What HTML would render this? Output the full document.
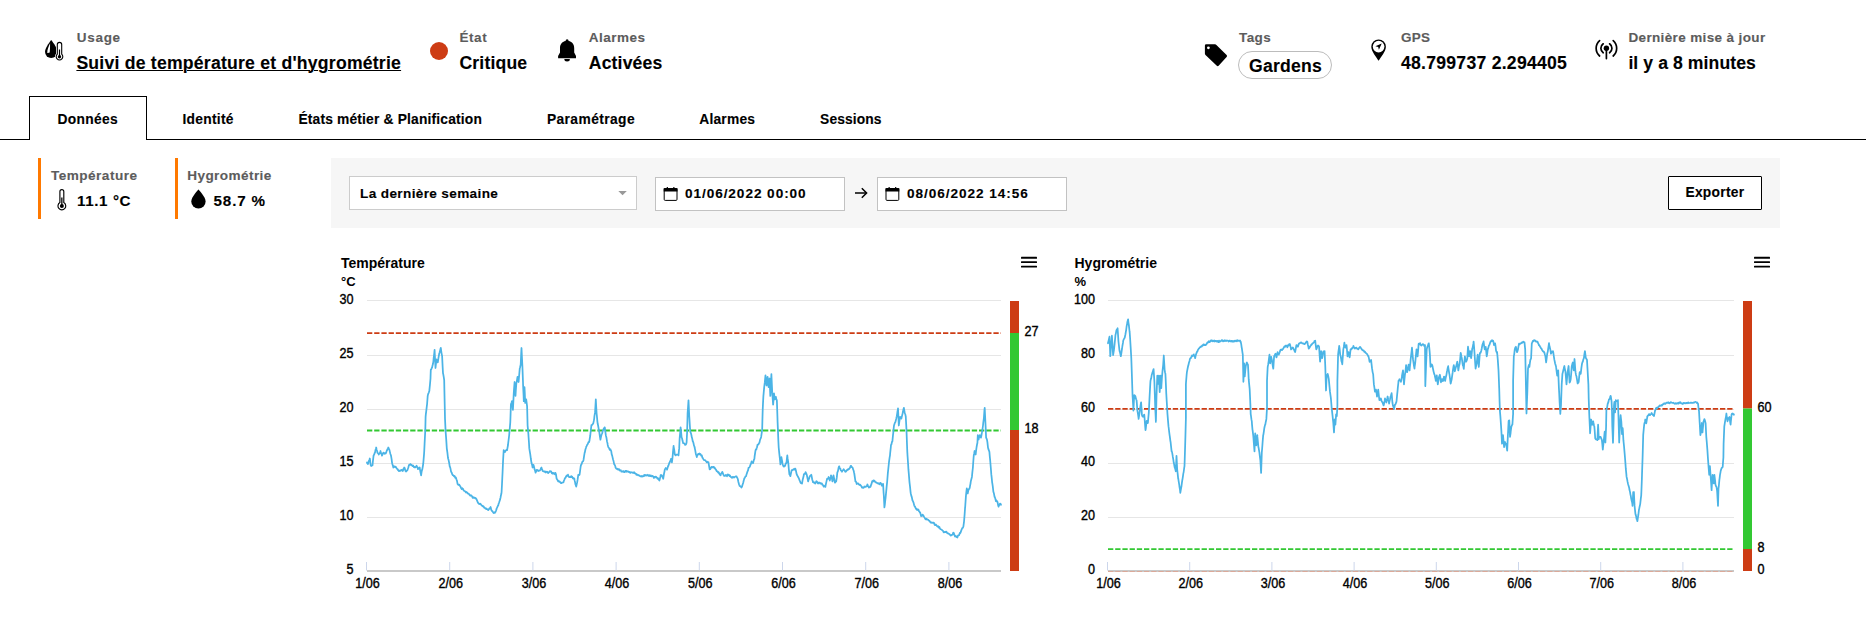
<!DOCTYPE html>
<html lang="fr"><head><meta charset="utf-8"><title>Suivi de température et d'hygrométrie</title>
<style>
html,body{margin:0;padding:0;background:#fff;}
body{width:1866px;height:617px;position:relative;overflow:hidden;font-family:"Liberation Sans",Arial,sans-serif;}
.tx{position:absolute;white-space:nowrap;font-weight:bold;-webkit-text-stroke:0.12px currentColor;}
.abs{position:absolute;box-sizing:border-box;}
svg{position:absolute;left:0;top:0;overflow:visible;}
svg text{font-family:"Liberation Sans",Arial,sans-serif;}
.ax{font-size:14px;fill:#000;stroke:#000;stroke-width:0.38px;}
.ti{font-size:14px;font-weight:bold;fill:#000;}
.un{font-size:13px;font-weight:bold;fill:#000;}
</style></head><body>
<!-- tab line + active tab -->
<div class="abs" style="left:0;top:139px;width:1866px;height:1px;background:#000"></div>
<div class="abs" style="left:29px;top:96px;width:118px;height:44px;border:1px solid #000;border-bottom:none;background:#fff"></div>
<!-- status dot -->
<div class="abs" style="left:430px;top:42px;width:18px;height:18px;border-radius:50%;background:#cd3c14"></div>
<!-- tag pill -->
<div class="abs" style="left:1238px;top:51px;width:94px;height:28px;border:1px solid #bcbcbc;border-radius:14px;background:#fff"></div>
<!-- side bars -->
<div class="abs" style="left:38px;top:158px;width:3px;height:61px;background:#ff7900"></div>
<div class="abs" style="left:175px;top:158px;width:3px;height:61px;background:#ff7900"></div>
<!-- filter panel -->
<div class="abs" style="left:331px;top:158px;width:1449px;height:69.5px;background:#f6f6f6"></div>
<div class="abs" style="left:349px;top:176px;width:288px;height:34px;border:1px solid #ccc;background:#fff"></div>
<div class="abs" style="left:655px;top:177px;width:190px;height:34px;border:1px solid #c2c2c2;background:#fff"></div>
<div class="abs" style="left:877px;top:177px;width:190px;height:34px;border:1px solid #c2c2c2;background:#fff"></div>
<div class="abs" style="left:1668px;top:176px;width:94px;height:34px;border:1px solid #000;border-radius:1px;background:#fff"></div>
<div class="tx" id="l1" style="left:76.7px;top:30px;line-height:15px;font-size:13.5px;color:#5c5c5c;letter-spacing:0.725px;">Usage</div>
<div class="tx" id="l2" style="left:459.4px;top:30px;line-height:15px;font-size:13.5px;color:#5c5c5c;letter-spacing:0.600px;">État</div>
<div class="tx" id="l3" style="left:588.8px;top:30px;line-height:15px;font-size:13.5px;color:#5c5c5c;letter-spacing:0.500px;">Alarmes</div>
<div class="tx" id="l4" style="left:1239px;top:30px;line-height:15px;font-size:13.5px;color:#5c5c5c;letter-spacing:0.433px;">Tags</div>
<div class="tx" id="l5" style="left:1401.1px;top:30px;line-height:15px;font-size:13.5px;color:#5c5c5c;letter-spacing:0.250px;">GPS</div>
<div class="tx" id="l6" style="left:1628.4px;top:30px;line-height:15px;font-size:13.5px;color:#5c5c5c;letter-spacing:0.368px;">Dernière mise à jour</div>
<div class="tx" id="v1" style="left:76.4px;top:53px;line-height:20px;font-size:17.6px;color:#000;letter-spacing:0.233px;text-decoration:underline;text-decoration-thickness:1px;text-underline-offset:1px;">Suivi de température et d'hygrométrie</div>
<div class="tx" id="v2" style="left:459.4px;top:53px;line-height:20px;font-size:17.6px;color:#000;letter-spacing:0.186px;">Critique</div>
<div class="tx" id="v3" style="left:588.8px;top:53px;line-height:20px;font-size:17.6px;color:#000;letter-spacing:0.157px;">Activées</div>
<div class="tx" id="v4" style="left:1249.1px;top:56px;line-height:20px;font-size:17.6px;color:#000;letter-spacing:0.233px;">Gardens</div>
<div class="tx" id="v5" style="left:1401px;top:53px;line-height:20px;font-size:17.6px;color:#000;letter-spacing:0.259px;">48.799737 2.294405</div>
<div class="tx" id="v6" style="left:1628.4px;top:53px;line-height:20px;font-size:17.6px;color:#000;letter-spacing:0.087px;">il y a 8 minutes</div>
<div class="tx" id="t1" style="left:57.4px;top:112px;line-height:15px;font-size:13.8px;color:#000;letter-spacing:0.317px;">Données</div>
<div class="tx" id="t2" style="left:182.4px;top:112px;line-height:15px;font-size:13.8px;color:#000;letter-spacing:0.286px;">Identité</div>
<div class="tx" id="t3" style="left:298.4px;top:112px;line-height:15px;font-size:13.8px;color:#000;letter-spacing:0.178px;">États métier &amp; Planification</div>
<div class="tx" id="t4" style="left:546.9px;top:112px;line-height:15px;font-size:13.8px;color:#000;letter-spacing:0.410px;">Paramétrage</div>
<div class="tx" id="t5" style="left:699.2px;top:112px;line-height:15px;font-size:13.8px;color:#000;letter-spacing:0.233px;">Alarmes</div>
<div class="tx" id="t6" style="left:820.1px;top:112px;line-height:15px;font-size:13.8px;color:#000;letter-spacing:0.100px;">Sessions</div>
<div class="tx" id="s1" style="left:50.9px;top:168px;line-height:15px;font-size:13.6px;color:#5c5c5c;letter-spacing:0.480px;">Température</div>
<div class="tx" id="s2" style="left:77.0px;top:192px;line-height:17px;font-size:15.2px;color:#000;letter-spacing:0.600px;">11.1 °C</div>
<div class="tx" id="s3" style="left:187.2px;top:168px;line-height:15px;font-size:13.6px;color:#5c5c5c;letter-spacing:0.410px;">Hygrométrie</div>
<div class="tx" id="s4" style="left:213.6px;top:192px;line-height:17px;font-size:15.2px;color:#000;letter-spacing:0.820px;">58.7 %</div>
<div class="tx" id="f1" style="left:360.1px;top:186px;line-height:15px;font-size:13.6px;color:#000;letter-spacing:0.350px;">La dernière semaine</div>
<div class="tx" id="f2" style="left:684.9px;top:186px;line-height:15px;font-size:13.6px;color:#000;letter-spacing:0.947px;">01/06/2022 00:00</div>
<div class="tx" id="f3" style="left:907px;top:186px;line-height:15px;font-size:13.6px;color:#000;letter-spacing:0.947px;">08/06/2022 14:56</div>
<div class="tx" id="f4" style="left:1685.4px;top:185px;line-height:15px;font-size:13.8px;color:#000;letter-spacing:0.286px;">Exporter</div>
<svg width="1866" height="617" viewBox="0 0 1866 617">
<!-- usage icon: drop + thermometer -->
<g id="ic-usage">
<path d="M51.2 40 C51.2 40 45 47.6 45 51.8 A6.2 6.2 0 0 0 57.4 51.8 C57.4 47.6 51.2 40 51.2 40Z" fill="#000"/>
<path d="M50.1 43.2 C48.6 46.6 47.1 49.8 47.3 52.9 C48 53.1 49 52.9 49.7 52.5 C49.9 49.5 50.2 46.4 50.1 43.2Z" fill="#fff"/>
<path d="M57.3 44.6 a2.2 2.2 0 0 1 4.4 0 V54.2 a3.3 3.3 0 1 1 -4.4 0Z" fill="#fff" stroke="#fff" stroke-width="2.6"/>
<path d="M57.3 44.6 a2.2 2.2 0 0 1 4.4 0 V54.2 a3.3 3.3 0 1 1 -4.4 0Z" fill="#fff" stroke="#000" stroke-width="1.1"/>
<circle cx="59.5" cy="56.8" r="1.7" fill="#000"/>
<rect x="58.9" y="49.5" width="1.2" height="7" fill="#000"/>
</g>
<!-- bell -->
<g id="ic-bell" transform="translate(558.1,39.3)">
<path d="M9 0 a1.5 1.5 0 0 1 1.5 1.5 v0.3 C14.2 2.5 16.1 5.3 16.1 9 V13.2 L17.9 16.8 V18.9 H0 V16.8 L1.9 13.2 V9 C1.9 5.3 3.8 2.5 7.5 1.8 V1.5 A1.5 1.5 0 0 1 9 0Z" fill="#000"/>
<path d="M6.2 19.8 H11.8 A2.8 2.5 0 0 1 6.2 19.8Z" fill="#000"/>
</g>
<!-- tag -->
<g id="ic-tag">
<path d="M1206.2 44.3 H1215 Q1215.8 44.3 1216.4 44.9 L1226.6 55.1 Q1227.5 56 1226.6 56.9 L1218.6 65.7 Q1217.7 66.6 1216.8 65.7 L1205.5 55 Q1204.9 54.4 1204.9 53.6 V45.6 Q1204.9 44.3 1206.2 44.3Z" fill="#000"/>
<circle cx="1208.4" cy="47.8" r="1.4" fill="#fff"/>
</g>
<!-- gps pin -->
<g id="ic-pin">
<path d="M1378.6 60.8 C1376.5 57.2 1371.3 51.5 1371.3 46.7 A7.3 7.3 0 0 1 1385.9 46.7 C1385.9 51.5 1380.7 57.2 1378.6 60.8Z" fill="#000"/>
<circle cx="1378.6" cy="46.6" r="5.8" fill="#fff"/>
<path d="M1381.7 43.5 L1375.4 46.3 L1378.2 47 L1378.9 49.8Z" fill="#000"/>
</g>
<!-- signal -->
<g id="ic-signal" fill="none" stroke="#000" stroke-width="1.7" stroke-linecap="round">
<circle cx="1606.4" cy="48.3" r="2.7" fill="#000" stroke="none"/>
<line x1="1606.4" y1="48.3" x2="1606.4" y2="58.6"/>
<path d="M1603.2 43.8 A5.5 5.5 0 0 0 1603.2 52.8"/>
<path d="M1609.6 43.8 A5.5 5.5 0 0 1 1609.6 52.8"/>
<path d="M1599.6 40.6 A10.3 10.3 0 0 0 1599.6 56"/>
<path d="M1613.2 40.6 A10.3 10.3 0 0 1 1613.2 56"/>
</g>
<!-- thermometer (side) -->
<g id="ic-thermo">
<path d="M59.9 191.6 a1.95 1.95 0 0 1 3.9 0 V202.6 a3.9 3.9 0 1 1 -3.9 0Z" fill="#fff" stroke="#000" stroke-width="1.15"/>
<circle cx="61.85" cy="206" r="2" fill="#000"/>
<rect x="61.2" y="197.5" width="1.3" height="8" fill="#000"/>
</g>
<!-- drop (side) -->
<path id="ic-drop" d="M198.45 189.6 C198.45 189.6 191.3 197 191.3 201.4 A7.15 7.15 0 0 0 205.6 201.4 C205.6 197 198.45 189.6 198.45 189.6Z" fill="#000"/>
<!-- caret -->
<path d="M618.3 191 H626.8 L622.55 195.3Z" fill="#999"/>
<!-- calendars -->
<g id="ic-cal1">
<rect x="664.2" y="188.6" width="12.8" height="11.8" rx="1" fill="#fff" stroke="#000" stroke-width="1"/>
<rect x="663.7" y="188.1" width="13.8" height="3.4" fill="#000"/>
<rect x="666.7" y="187.1" width="1.3" height="2.6" fill="#000"/><rect x="673.2" y="187.1" width="1.3" height="2.6" fill="#000"/>
</g>
<g id="ic-cal2" transform="translate(221.8,0)">
<rect x="664.2" y="188.6" width="12.8" height="11.8" rx="1" fill="#fff" stroke="#000" stroke-width="1"/>
<rect x="663.7" y="188.1" width="13.8" height="3.4" fill="#000"/>
<rect x="666.7" y="187.1" width="1.3" height="2.6" fill="#000"/><rect x="673.2" y="187.1" width="1.3" height="2.6" fill="#000"/>
</g>
<!-- arrow -->
<g fill="none" stroke="#000" stroke-width="1.5">
<path d="M855 193 H866"/><path d="M861.8 188.2 L866.6 193 L861.8 197.8"/>
</g>

<rect x="367" y="300.0" width="634" height="1" fill="#e6e6e6"/>
<rect x="367" y="355.0" width="634" height="1" fill="#e6e6e6"/>
<rect x="367" y="409.0" width="634" height="1" fill="#e6e6e6"/>
<rect x="367" y="463.0" width="634" height="1" fill="#e6e6e6"/>
<rect x="367" y="517.0" width="634" height="1" fill="#e6e6e6"/>
<rect x="367" y="570" width="634" height="2" fill="#c9c9c9"/>
<rect x="366.0" y="562" width="1" height="8.5" fill="#ccd6eb"/>
<text transform="translate(367.5,588) scale(0.9,1)" text-anchor="middle" class="ax">1/06</text>
<rect x="449.2" y="562" width="1" height="8.5" fill="#ccd6eb"/>
<text transform="translate(450.7,588) scale(0.9,1)" text-anchor="middle" class="ax">2/06</text>
<rect x="532.4" y="562" width="1" height="8.5" fill="#ccd6eb"/>
<text transform="translate(533.9,588) scale(0.9,1)" text-anchor="middle" class="ax">3/06</text>
<rect x="615.6" y="562" width="1" height="8.5" fill="#ccd6eb"/>
<text transform="translate(617.1,588) scale(0.9,1)" text-anchor="middle" class="ax">4/06</text>
<rect x="698.8" y="562" width="1" height="8.5" fill="#ccd6eb"/>
<text transform="translate(700.3,588) scale(0.9,1)" text-anchor="middle" class="ax">5/06</text>
<rect x="782.0" y="562" width="1" height="8.5" fill="#ccd6eb"/>
<text transform="translate(783.5,588) scale(0.9,1)" text-anchor="middle" class="ax">6/06</text>
<rect x="865.2" y="562" width="1" height="8.5" fill="#ccd6eb"/>
<text transform="translate(866.7,588) scale(0.9,1)" text-anchor="middle" class="ax">7/06</text>
<rect x="948.4" y="562" width="1" height="8.5" fill="#ccd6eb"/>
<text transform="translate(949.9,588) scale(0.9,1)" text-anchor="middle" class="ax">8/06</text>
<text transform="translate(353.5,304) scale(0.9,1)" text-anchor="end" class="ax">30</text>
<text transform="translate(353.5,358) scale(0.9,1)" text-anchor="end" class="ax">25</text>
<text transform="translate(353.5,412) scale(0.9,1)" text-anchor="end" class="ax">20</text>
<text transform="translate(353.5,466) scale(0.9,1)" text-anchor="end" class="ax">15</text>
<text transform="translate(353.5,520) scale(0.9,1)" text-anchor="end" class="ax">10</text>
<text transform="translate(353.5,574) scale(0.9,1)" text-anchor="end" class="ax">5</text>
<line x1="367" x2="1001" y1="333.2" y2="333.2" stroke="#cd3c14" stroke-width="1.8" stroke-dasharray="5.3,1.9"/>
<line x1="367" x2="1001" y1="430.5" y2="430.5" stroke="#32c832" stroke-width="1.8" stroke-dasharray="5.3,1.9"/>
<path d="M367.0 462.9 L367.0 462.3 L367.6 463.7 L368.0 464.0 L368.2 463.1 L368.7 461.4 L368.8 461.2 L369.4 459.7 L369.8 458.5 L370.0 459.7 L370.5 464.0 L370.6 464.9 L371.2 466.0 L371.5 465.8 L371.8 465.3 L372.4 465.4 L372.5 465.4 L373.0 460.3 L373.6 455.3 L373.6 455.5 L374.2 454.6 L374.8 452.6 L375.0 452.7 L375.4 450.3 L376.0 448.4 L376.2 447.5 L376.6 449.7 L377.2 451.2 L377.4 452.7 L377.8 453.0 L378.4 453.7 L378.8 454.5 L379.0 453.9 L379.6 453.5 L380.2 452.1 L380.5 451.0 L380.8 452.4 L381.4 453.8 L381.9 455.3 L382.0 455.7 L382.6 454.2 L383.2 452.8 L383.6 452.7 L383.8 452.9 L384.4 453.7 L385.0 453.1 L385.4 453.3 L385.6 453.6 L386.2 452.5 L386.8 450.5 L387.1 450.1 L387.4 449.2 L388.0 448.4 L388.3 447.5 L388.6 448.1 L389.2 449.5 L389.5 450.1 L389.8 451.6 L390.4 454.0 L390.9 455.3 L391.0 455.6 L391.6 459.2 L392.0 462.3 L392.2 463.5 L392.8 465.4 L393.2 467.1 L393.4 467.5 L394.0 466.2 L394.6 466.8 L394.7 466.6 L395.2 467.2 L395.8 466.7 L396.1 467.5 L396.4 467.8 L397.0 468.9 L397.6 469.1 L397.9 470.1 L398.2 470.0 L398.8 471.0 L399.3 471.0 L399.4 470.7 L400.0 470.9 L400.6 470.7 L401.0 470.1 L401.2 470.0 L401.8 469.8 L402.4 470.6 L402.7 471.0 L403.0 470.5 L403.6 468.5 L404.2 468.0 L404.3 467.5 L404.8 468.5 L405.4 470.9 L405.7 471.0 L406.0 471.5 L406.6 471.0 L407.2 470.2 L407.4 470.1 L407.8 469.0 L408.4 467.2 L409.0 464.9 L409.1 464.9 L409.6 464.7 L410.2 464.8 L410.4 464.0 L410.8 464.6 L411.4 465.0 L411.7 464.9 L412.0 465.3 L412.6 466.2 L413.1 465.8 L413.2 465.5 L413.8 467.0 L414.4 466.8 L414.9 467.5 L415.0 467.5 L415.6 467.1 L416.2 466.3 L416.6 465.8 L416.8 466.8 L417.4 467.1 L418.0 469.2 L418.0 469.1 L418.6 468.1 L419.2 467.8 L419.7 467.5 L419.8 468.3 L420.4 471.8 L421.0 474.6 L421.1 475.3 L421.6 471.8 L422.2 469.2 L422.2 469.9 L422.8 466.5 L423.2 464.0 L423.4 461.9 L424.0 454.6 L424.2 451.9 L424.6 443.5 L425.2 432.0 L425.3 430.8 L425.6 416.8 L425.8 414.7 L426.4 409.8 L427.0 404.6 L427.0 405.3 L427.6 397.3 L427.7 395.9 L428.2 393.8 L428.8 392.6 L429.4 390.7 L429.4 390.1 L430.0 384.2 L430.5 378.5 L430.6 375.0 L430.8 369.8 L431.2 369.5 L431.8 367.9 L432.2 367.2 L432.4 365.9 L433.0 363.8 L433.4 361.1 L433.6 358.6 L434.2 353.8 L434.6 349.8 L434.8 354.5 L435.4 365.8 L435.5 368.0 L436.0 363.3 L436.4 359.3 L436.6 359.7 L437.2 360.1 L437.8 361.9 L437.8 362.4 L438.4 358.3 L439.0 354.8 L439.1 354.1 L439.6 352.4 L440.2 350.1 L440.7 348.0 L440.8 347.9 L441.4 352.3 L442.0 355.6 L442.1 355.8 L442.6 366.1 L443.0 373.3 L443.2 373.9 L443.8 377.3 L444.2 380.2 L444.4 390.3 L444.7 404.6 L445.0 418.6 L445.0 418.6 L445.6 431.0 L445.7 432.5 L446.2 439.1 L446.8 448.4 L446.8 448.5 L447.4 452.6 L448.0 458.0 L448.2 458.8 L448.6 460.1 L449.2 463.0 L449.8 466.9 L449.9 466.6 L450.4 468.2 L451.0 471.3 L451.6 472.7 L451.6 472.3 L452.2 474.3 L452.8 475.1 L453.4 475.3 L453.4 475.3 L454.0 476.4 L454.6 476.0 L455.2 477.8 L455.8 477.5 L456.0 477.9 L456.4 479.3 L457.0 480.9 L457.6 484.1 L457.7 484.0 L458.2 484.8 L458.8 484.6 L459.4 484.9 L459.4 485.3 L460.0 485.9 L460.6 486.9 L461.2 488.3 L461.2 488.3 L461.8 489.1 L462.4 488.3 L462.9 489.2 L463.0 488.9 L463.6 490.3 L464.2 491.0 L464.8 491.1 L465.4 491.7 L465.5 491.8 L466.0 492.6 L466.6 492.0 L467.2 492.6 L467.8 493.6 L468.1 493.5 L468.4 493.7 L469.0 494.1 L469.6 495.0 L470.2 495.6 L470.7 495.3 L470.8 495.1 L471.4 496.0 L472.0 496.1 L472.6 497.8 L473.2 497.2 L473.3 497.9 L473.8 497.4 L474.4 497.5 L475.0 498.3 L475.6 498.0 L475.9 498.7 L476.2 498.7 L476.8 499.9 L477.4 501.4 L478.0 502.9 L478.5 503.1 L478.6 503.6 L479.2 503.8 L479.8 504.1 L480.4 503.7 L481.0 504.5 L481.1 504.8 L481.6 505.4 L482.2 505.7 L482.8 506.4 L483.4 506.2 L483.7 506.6 L484.0 507.6 L484.6 507.7 L485.2 508.3 L485.8 508.4 L486.3 509.2 L486.4 508.6 L487.0 509.2 L487.6 509.3 L488.2 510.1 L488.4 510.0 L488.8 509.5 L489.4 508.4 L490.0 508.1 L490.5 507.4 L490.6 507.0 L491.2 509.6 L491.8 510.9 L491.9 510.9 L492.4 511.1 L493.0 512.2 L493.6 513.0 L493.8 513.0 L494.2 512.5 L494.8 512.9 L495.3 511.8 L495.4 512.2 L496.0 510.7 L496.6 508.9 L496.7 508.3 L497.2 507.4 L497.8 506.0 L498.4 505.0 L498.5 504.0 L499.0 502.8 L499.6 500.9 L500.2 499.1 L500.5 497.9 L500.8 496.0 L501.4 493.5 L501.6 491.8 L502.0 484.3 L502.3 477.9 L502.6 471.6 L503.0 462.3 L503.2 458.3 L503.7 450.1 L503.8 450.9 L504.4 450.9 L504.7 451.9 L505.0 452.1 L505.6 450.8 L505.7 450.5 L506.2 450.1 L506.8 449.5 L507.1 450.1 L507.4 448.3 L508.0 445.0 L508.2 443.2 L508.6 440.0 L508.9 437.7 L509.2 435.0 L509.8 428.1 L510.3 422.1 L510.4 419.2 L510.9 404.6 L511.0 404.1 L511.6 402.5 L512.0 401.1 L512.2 402.7 L512.8 409.4 L512.9 409.9 L513.4 400.8 L513.7 394.2 L514.0 389.5 L514.6 382.0 L514.6 382.0 L515.2 390.7 L515.5 395.9 L515.8 390.7 L516.3 383.7 L516.4 383.1 L517.0 380.1 L517.5 376.8 L517.6 377.5 L518.2 380.0 L518.6 382.0 L518.8 379.5 L519.4 372.7 L519.8 368.0 L520.0 367.8 L520.6 365.0 L520.7 364.6 L521.2 353.5 L521.5 348.0 L521.8 354.6 L522.4 366.3 L522.4 366.2 L523.0 382.2 L523.1 385.5 L523.6 395.9 L523.8 401.1 L524.2 393.8 L524.5 387.2 L524.8 393.3 L525.2 402.9 L525.4 402.7 L526.0 400.1 L526.2 399.4 L526.6 402.3 L527.1 406.4 L527.2 409.8 L527.6 425.5 L527.8 427.6 L528.4 434.1 L528.5 436.0 L529.0 443.3 L529.3 448.4 L529.6 450.3 L530.2 453.8 L530.5 456.2 L530.8 458.5 L531.4 462.3 L531.8 464.0 L532.0 464.4 L532.6 467.5 L532.6 467.2 L533.2 465.8 L533.5 464.9 L533.8 465.9 L534.4 468.4 L534.5 469.2 L535.0 470.4 L535.6 472.7 L535.6 472.3 L536.2 471.5 L536.6 470.1 L536.8 469.8 L537.4 470.1 L538.0 470.8 L538.3 471.0 L538.6 470.5 L539.2 470.7 L539.8 470.6 L540.1 470.1 L540.4 470.0 L541.0 468.0 L541.5 467.5 L541.6 468.5 L542.2 469.4 L542.7 471.0 L542.8 471.2 L543.4 471.3 L544.0 471.3 L544.4 471.8 L544.6 471.4 L545.2 471.4 L545.8 472.5 L546.2 471.8 L546.4 471.8 L547.0 471.7 L547.6 472.1 L547.9 472.7 L548.2 473.1 L548.8 472.5 L549.4 471.8 L550.0 471.6 L550.1 471.0 L550.6 471.7 L551.2 471.5 L551.8 473.1 L551.9 472.7 L552.4 473.7 L553.0 472.8 L553.6 473.6 L553.6 473.6 L554.2 473.2 L554.8 474.3 L555.4 472.9 L555.7 473.6 L556.0 474.5 L556.6 478.6 L556.7 478.8 L557.2 479.3 L557.8 480.7 L558.3 481.4 L558.4 480.8 L559.0 481.6 L559.6 481.3 L560.0 482.2 L560.2 482.0 L560.8 483.1 L561.4 483.0 L561.8 483.1 L562.0 482.7 L562.6 482.5 L563.2 482.4 L563.5 482.2 L563.8 481.0 L564.4 479.6 L564.7 478.8 L565.0 478.1 L565.6 477.8 L566.1 476.2 L566.2 476.4 L566.8 475.5 L567.4 475.9 L567.8 475.3 L568.0 474.7 L568.6 476.5 L569.2 477.2 L569.6 477.0 L569.8 477.2 L570.4 477.2 L571.0 476.3 L571.3 476.2 L571.6 477.0 L572.2 476.7 L572.8 478.3 L573.0 477.9 L573.4 478.7 L574.0 478.2 L574.4 478.8 L574.6 480.4 L575.2 482.8 L575.3 484.0 L575.8 485.3 L576.2 486.6 L576.4 485.8 L577.0 482.9 L577.2 482.2 L577.6 479.7 L578.2 475.3 L578.2 474.9 L578.8 474.9 L579.4 475.0 L579.6 474.4 L580.0 471.7 L580.6 467.0 L580.8 465.8 L581.2 464.6 L581.8 463.8 L582.1 462.3 L582.4 461.8 L583.0 461.3 L583.4 460.5 L583.6 459.4 L584.2 455.4 L584.8 451.9 L584.8 452.6 L585.4 449.5 L586.0 447.7 L586.2 446.7 L586.6 446.2 L587.2 444.7 L587.8 444.1 L587.8 444.0 L588.4 442.2 L589.0 442.1 L589.5 440.6 L589.6 439.5 L590.2 436.0 L590.4 434.2 L590.8 430.4 L591.4 425.5 L591.4 425.1 L592.0 425.2 L592.6 424.1 L593.0 423.8 L593.2 423.6 L593.8 420.9 L594.2 418.6 L594.4 416.4 L595.0 412.7 L595.1 411.6 L595.6 403.2 L595.8 399.4 L596.2 406.6 L596.6 413.3 L596.8 415.0 L597.4 421.6 L597.7 423.8 L598.0 425.0 L598.6 428.4 L599.0 430.8 L599.2 431.3 L599.8 435.9 L600.4 439.5 L600.4 439.7 L601.0 436.8 L601.6 434.5 L601.7 434.2 L602.2 433.3 L602.8 430.7 L602.9 430.8 L603.4 429.4 L604.0 428.2 L604.6 427.4 L604.8 427.3 L605.2 430.1 L605.8 435.1 L606.0 436.0 L606.4 437.4 L607.0 441.4 L607.6 443.7 L607.7 444.9 L608.2 446.8 L608.8 447.9 L609.4 448.4 L609.5 449.3 L610.0 450.2 L610.6 449.5 L610.8 450.1 L611.2 451.0 L611.8 454.8 L612.1 455.3 L612.4 456.6 L613.0 459.2 L613.6 461.3 L613.8 462.3 L614.2 464.2 L614.8 465.0 L615.4 466.5 L615.5 467.5 L616.0 468.2 L616.6 468.9 L617.2 468.7 L617.8 469.6 L618.1 469.2 L618.4 469.5 L619.0 469.1 L619.6 470.5 L620.2 470.3 L620.7 470.6 L620.8 470.2 L621.4 471.7 L622.0 471.7 L622.6 471.3 L623.2 471.2 L623.3 471.8 L623.8 471.4 L624.4 472.1 L625.0 471.8 L625.6 470.8 L625.9 471.3 L626.2 471.8 L626.8 470.9 L627.4 471.5 L628.0 471.8 L628.5 471.8 L628.6 471.5 L629.2 472.3 L629.8 472.1 L630.4 472.9 L631.0 472.1 L631.1 472.4 L631.6 472.3 L632.2 472.3 L632.8 472.8 L633.4 473.0 L633.7 472.7 L634.0 472.1 L634.6 473.3 L635.2 473.2 L635.8 473.9 L636.3 474.1 L636.4 474.9 L637.0 474.4 L637.6 474.8 L638.2 475.4 L638.8 475.2 L638.9 475.3 L639.4 475.5 L640.0 476.1 L640.6 476.4 L641.2 476.4 L641.5 476.5 L641.8 475.9 L642.4 476.5 L643.0 476.3 L643.6 476.2 L644.1 475.3 L644.2 474.8 L644.8 475.8 L645.4 475.0 L646.0 475.2 L646.6 475.6 L646.7 475.3 L647.2 475.4 L647.8 474.8 L648.4 475.8 L649.0 475.9 L649.3 475.3 L649.6 475.2 L650.2 476.2 L650.8 475.3 L651.4 476.4 L651.9 476.2 L652.0 476.2 L652.6 475.9 L653.2 476.4 L653.8 477.9 L654.4 476.8 L654.5 477.6 L655.0 477.6 L655.6 476.7 L656.2 476.9 L656.3 477.0 L656.8 477.5 L657.4 478.6 L658.0 478.8 L658.0 478.1 L658.6 479.5 L659.2 480.2 L659.4 480.5 L659.8 479.1 L660.4 476.4 L660.6 475.3 L661.0 475.0 L661.6 475.2 L661.8 475.3 L662.2 476.5 L662.8 477.7 L663.2 478.8 L663.4 477.6 L664.0 473.8 L664.6 471.0 L664.6 470.4 L665.2 468.8 L665.6 468.4 L665.8 468.0 L666.4 468.6 L667.0 469.2 L667.0 469.7 L667.6 467.7 L668.2 465.7 L668.4 465.8 L668.8 464.5 L669.4 462.7 L669.8 462.3 L670.0 461.3 L670.6 460.6 L671.0 458.8 L671.2 458.9 L671.8 461.7 L671.9 462.3 L672.4 458.6 L672.8 454.5 L673.0 451.8 L673.6 445.8 L673.6 446.5 L674.2 449.7 L674.7 453.6 L674.8 454.5 L675.4 455.0 L675.7 455.3 L676.0 454.8 L676.6 454.6 L677.1 454.5 L677.2 454.5 L677.8 454.6 L678.4 455.2 L678.5 455.3 L679.0 449.9 L679.2 448.4 L679.6 439.3 L679.7 437.7 L680.2 432.5 L680.6 427.3 L680.8 428.8 L681.4 435.2 L681.6 437.7 L682.0 438.1 L682.3 439.5 L682.6 441.1 L683.2 443.2 L683.2 443.1 L683.8 443.1 L684.4 443.7 L684.9 444.1 L685.0 444.9 L685.6 444.6 L685.7 444.6 L686.2 444.0 L686.6 442.3 L686.8 438.2 L687.1 432.5 L687.4 421.5 L687.6 413.3 L688.0 407.9 L688.5 400.3 L688.6 402.4 L689.2 415.4 L689.3 416.8 L689.8 424.7 L690.2 430.8 L690.4 432.1 L691.0 433.4 L691.6 436.0 L691.6 436.5 L692.2 438.6 L692.8 441.5 L692.8 441.1 L693.4 442.8 L694.0 445.6 L694.5 446.7 L694.6 447.5 L695.2 450.1 L695.8 453.6 L695.8 454.0 L696.4 455.5 L696.8 457.1 L697.0 456.0 L697.6 454.8 L698.0 454.5 L698.2 453.9 L698.8 454.4 L699.4 453.5 L699.7 454.0 L700.0 454.4 L700.6 454.2 L701.2 455.7 L701.5 455.3 L701.8 455.4 L702.4 457.8 L703.0 458.2 L703.2 458.8 L703.6 459.8 L704.2 460.0 L704.8 460.0 L704.9 460.2 L705.4 460.4 L706.0 461.4 L706.6 461.7 L706.7 462.3 L707.2 461.7 L707.8 462.4 L708.4 462.3 L708.4 462.0 L709.0 465.5 L709.6 469.2 L709.6 469.3 L710.2 469.1 L710.8 468.3 L711.0 467.5 L711.4 466.9 L712.0 467.1 L712.6 467.3 L712.7 467.1 L713.2 466.8 L713.8 466.8 L714.4 468.2 L714.8 467.8 L715.0 468.6 L715.6 469.2 L716.2 470.1 L716.2 470.3 L716.8 471.3 L717.4 471.3 L718.0 472.3 L718.3 472.7 L718.6 472.3 L719.2 473.3 L719.8 474.6 L720.4 474.5 L720.6 475.3 L721.0 473.8 L721.6 473.0 L722.2 472.2 L722.3 471.8 L722.8 473.1 L723.4 474.8 L724.0 475.3 L724.0 475.8 L724.6 475.8 L725.2 475.8 L725.8 474.9 L726.4 475.3 L726.6 475.8 L727.0 476.3 L727.6 474.5 L728.2 475.0 L728.4 474.8 L728.8 474.7 L729.4 476.0 L730.0 475.5 L730.4 476.5 L730.6 476.8 L731.2 477.1 L731.8 477.8 L732.4 477.1 L732.7 477.6 L733.0 476.9 L733.6 477.1 L734.2 477.5 L734.8 476.9 L734.9 477.0 L735.4 476.5 L736.0 476.3 L736.6 476.3 L736.7 477.0 L737.2 477.7 L737.8 479.0 L738.1 480.5 L738.4 482.0 L739.0 484.3 L739.6 485.7 L739.6 485.9 L740.2 486.1 L740.8 486.6 L741.4 487.5 L741.4 487.4 L742.0 486.7 L742.6 484.5 L743.1 483.1 L743.2 482.8 L743.8 480.2 L744.3 478.8 L744.4 478.3 L745.0 477.4 L745.6 476.2 L746.0 476.2 L746.2 475.6 L746.8 473.6 L747.4 471.8 L747.4 471.6 L748.0 470.5 L748.6 467.7 L748.8 467.5 L749.2 467.5 L749.8 466.8 L750.2 465.8 L750.4 464.8 L751.0 463.8 L751.6 461.4 L751.6 462.0 L752.2 462.3 L752.8 463.0 L753.0 463.2 L753.4 461.8 L754.0 459.6 L754.4 458.8 L754.6 456.5 L755.2 452.5 L755.4 451.0 L755.8 449.5 L756.4 449.3 L756.5 448.4 L757.0 447.3 L757.5 444.9 L757.6 444.5 L758.2 444.5 L758.7 444.1 L758.8 443.5 L759.4 442.7 L759.9 440.6 L760.0 440.0 L760.6 438.5 L761.0 437.7 L761.2 436.7 L761.8 432.3 L762.2 429.0 L762.4 420.7 L762.7 409.9 L763.0 403.4 L763.4 395.9 L763.6 393.9 L764.2 387.1 L764.4 385.5 L764.8 382.4 L765.4 376.0 L765.5 375.4 L766.0 380.6 L766.5 385.5 L766.6 385.0 L767.2 379.8 L767.6 376.8 L767.8 378.4 L768.4 385.7 L768.6 387.2 L769.0 383.9 L769.6 378.5 L769.6 379.1 L770.2 393.5 L770.3 395.9 L770.8 385.5 L771.4 374.1 L771.4 374.7 L772.0 387.2 L772.2 392.4 L772.6 397.4 L773.1 404.6 L773.2 404.0 L773.8 396.2 L774.0 393.3 L774.4 396.4 L774.8 399.4 L775.0 399.2 L775.6 397.9 L775.9 396.8 L776.2 398.8 L776.8 400.1 L776.9 401.1 L777.4 415.9 L777.6 422.1 L778.0 431.6 L778.3 439.5 L778.6 445.8 L778.7 447.5 L779.2 452.6 L779.7 457.1 L779.8 458.0 L780.4 464.0 L780.4 464.4 L781.0 460.4 L781.4 457.1 L781.6 458.3 L782.2 461.4 L782.5 464.0 L782.8 464.8 L783.4 466.3 L783.9 466.6 L784.0 466.7 L784.6 465.6 L785.2 465.8 L785.2 465.1 L785.8 463.4 L786.4 463.1 L786.5 462.3 L787.0 457.9 L787.3 455.3 L787.6 458.2 L788.2 462.2 L788.4 464.0 L788.8 468.8 L789.4 474.4 L789.4 474.3 L790.0 475.2 L790.4 476.2 L790.6 475.0 L791.2 472.3 L791.7 470.1 L791.8 470.1 L792.4 470.1 L793.0 469.8 L793.4 469.2 L793.6 469.1 L794.2 469.7 L794.8 468.6 L795.3 468.9 L795.4 468.8 L796.0 471.0 L796.6 474.0 L796.9 474.4 L797.2 475.5 L797.8 476.3 L798.4 477.5 L798.6 477.9 L799.0 478.7 L799.6 480.4 L800.2 481.6 L800.3 482.2 L800.8 483.1 L801.4 483.0 L802.0 483.6 L802.1 483.1 L802.6 480.1 L803.2 477.7 L803.8 475.3 L803.8 474.6 L804.4 473.7 L805.0 473.9 L805.5 472.7 L805.6 472.2 L806.2 473.4 L806.8 474.8 L806.9 475.3 L807.4 477.7 L808.0 480.6 L808.1 481.4 L808.6 479.7 L809.2 478.3 L809.5 477.0 L809.8 476.2 L810.4 476.0 L811.0 475.1 L811.3 474.8 L811.6 476.1 L812.2 479.4 L812.8 481.3 L813.0 482.2 L813.4 481.9 L814.0 482.9 L814.6 482.4 L815.1 483.1 L815.2 483.6 L815.8 482.6 L816.4 481.2 L816.5 481.4 L817.0 481.6 L817.6 483.0 L818.2 483.5 L818.2 482.8 L818.8 482.5 L819.4 482.5 L819.9 482.8 L820.0 483.4 L820.6 483.7 L821.2 483.3 L821.8 483.4 L822.0 484.0 L822.4 484.8 L823.0 485.1 L823.6 486.4 L823.7 486.6 L824.2 486.4 L824.8 485.7 L825.4 486.9 L825.5 486.2 L826.0 483.7 L826.6 480.9 L826.9 479.6 L827.2 478.6 L827.8 478.9 L828.4 477.6 L828.6 477.0 L829.0 478.1 L829.6 479.4 L829.8 480.5 L830.2 478.8 L830.8 476.7 L831.0 475.3 L831.4 476.6 L832.0 479.0 L832.4 481.4 L832.6 480.8 L833.2 477.1 L833.5 475.3 L833.8 476.8 L834.4 480.0 L834.8 482.2 L835.0 482.7 L835.6 482.0 L836.2 481.4 L836.2 481.4 L836.8 477.4 L837.3 472.7 L837.4 472.3 L838.0 470.9 L838.6 467.6 L839.0 466.6 L839.2 466.3 L839.8 468.4 L840.4 468.8 L840.7 470.1 L841.0 470.7 L841.6 470.8 L842.0 471.8 L842.2 471.1 L842.8 470.3 L843.4 469.8 L843.7 469.2 L844.0 469.8 L844.6 470.5 L845.2 471.4 L845.4 471.8 L845.8 471.6 L846.4 470.9 L847.0 470.0 L847.2 470.1 L847.6 469.3 L848.2 469.7 L848.8 468.8 L848.9 469.2 L849.4 468.4 L850.0 467.9 L850.6 466.1 L851.1 465.8 L851.2 466.5 L851.8 467.2 L852.4 467.4 L852.9 468.4 L853.0 469.1 L853.6 470.5 L854.1 472.7 L854.2 473.0 L854.8 477.0 L855.3 480.5 L855.4 481.5 L856.0 481.7 L856.6 483.4 L856.7 484.0 L857.2 483.4 L857.8 483.3 L858.4 483.5 L858.4 483.9 L859.0 484.6 L859.6 485.0 L860.2 485.2 L860.2 484.6 L860.8 485.7 L861.4 486.2 L861.9 487.5 L862.0 487.1 L862.6 487.5 L863.2 487.9 L863.8 487.7 L864.4 486.5 L864.5 486.9 L865.0 486.9 L865.6 486.8 L866.2 486.6 L866.2 486.0 L866.8 486.1 L867.4 484.5 L867.4 484.3 L868.0 486.2 L868.6 486.8 L868.8 487.5 L869.2 487.4 L869.8 487.3 L870.4 486.0 L870.6 486.6 L871.0 485.1 L871.6 483.6 L872.2 481.2 L872.3 481.4 L872.8 481.7 L873.4 480.5 L874.0 481.0 L874.0 480.6 L874.6 480.9 L875.2 482.0 L875.8 482.2 L875.8 482.4 L876.4 482.6 L877.0 482.9 L877.6 483.4 L877.9 483.5 L878.2 483.2 L878.8 483.6 L879.2 484.0 L879.4 484.3 L880.0 483.0 L880.6 482.8 L880.6 483.1 L881.2 483.9 L881.8 485.7 L881.8 485.4 L882.4 485.3 L883.0 483.8 L883.1 484.0 L883.6 492.7 L883.8 495.3 L884.2 503.1 L884.4 507.4 L884.8 504.8 L885.4 499.1 L885.5 498.7 L886.0 493.7 L886.5 488.3 L886.6 487.1 L887.2 481.3 L887.6 476.2 L887.8 473.6 L888.4 467.8 L888.8 464.0 L889.0 462.1 L889.6 457.7 L890.0 455.3 L890.2 452.8 L890.8 447.3 L891.0 444.9 L891.4 444.5 L892.0 441.8 L892.4 441.5 L892.6 439.2 L893.1 434.2 L893.2 433.6 L893.8 427.1 L894.0 425.5 L894.4 424.3 L895.0 422.5 L895.4 422.1 L895.6 421.2 L896.2 418.9 L896.6 416.8 L896.8 416.2 L897.4 412.0 L898.0 409.0 L898.0 408.3 L898.6 420.7 L898.8 425.5 L899.2 422.7 L899.8 418.7 L900.1 416.8 L900.4 417.3 L901.0 418.5 L901.4 418.6 L901.6 417.6 L902.2 415.1 L902.7 413.3 L902.8 412.1 L903.4 409.6 L903.9 407.8 L904.0 408.6 L904.6 412.2 L904.9 413.3 L905.2 413.9 L905.8 416.8 L905.8 417.5 L906.4 428.1 L906.5 430.8 L907.0 444.5 L907.3 451.9 L907.6 456.7 L908.2 465.5 L908.4 469.2 L908.8 473.7 L909.4 481.1 L909.6 483.1 L910.0 486.3 L910.6 492.3 L910.8 493.5 L911.2 495.4 L911.8 497.1 L912.4 500.0 L912.5 500.5 L913.0 501.2 L913.6 502.9 L914.2 505.3 L914.8 506.6 L914.8 506.2 L915.4 507.4 L916.0 509.0 L916.5 509.2 L916.6 508.8 L917.2 510.0 L917.8 509.3 L918.3 509.5 L918.4 509.6 L919.0 511.3 L919.6 511.8 L920.0 512.6 L920.2 512.4 L920.8 515.1 L921.2 516.1 L921.4 515.3 L922.0 515.9 L922.6 514.6 L922.9 515.2 L923.2 515.1 L923.8 516.4 L924.4 517.4 L925.0 518.4 L925.2 518.7 L925.6 519.4 L926.2 518.6 L926.8 519.5 L927.4 519.3 L927.8 519.6 L928.0 519.6 L928.6 520.5 L929.2 520.5 L929.8 521.2 L930.4 522.2 L930.4 521.9 L931.0 522.9 L931.6 522.4 L932.2 522.7 L932.8 522.8 L933.0 523.0 L933.4 522.6 L934.0 522.9 L934.6 524.8 L935.2 525.2 L935.6 524.8 L935.8 524.5 L936.4 525.1 L937.0 526.1 L937.6 526.7 L938.2 526.5 L938.2 526.2 L938.8 527.7 L939.4 527.0 L940.0 528.8 L940.6 529.1 L940.8 529.1 L941.2 529.4 L941.8 529.8 L942.4 530.3 L943.0 530.8 L943.4 531.7 L943.6 532.3 L944.2 532.3 L944.8 531.9 L945.4 532.2 L946.0 532.1 L946.0 531.5 L946.6 531.9 L947.2 533.2 L947.8 533.4 L948.4 533.3 L948.6 533.8 L949.0 534.0 L949.6 534.2 L950.2 535.1 L950.8 535.6 L951.2 535.5 L951.4 535.0 L952.0 534.8 L952.6 534.7 L953.2 532.7 L953.5 533.1 L953.8 533.0 L954.4 534.7 L955.0 536.4 L955.2 536.6 L955.6 536.1 L956.2 536.3 L956.8 536.6 L956.9 537.3 L957.4 537.5 L958.0 535.6 L958.6 535.2 L959.0 535.2 L959.2 535.1 L959.8 532.9 L960.4 533.0 L961.0 531.4 L961.1 530.9 L961.6 529.7 L962.2 528.2 L962.8 528.0 L963.4 526.5 L963.4 526.3 L964.0 521.8 L964.2 519.6 L964.6 514.6 L965.1 507.4 L965.2 506.8 L965.8 497.9 L966.0 495.3 L966.4 491.5 L966.8 488.3 L967.0 489.3 L967.6 492.4 L967.7 493.5 L968.2 491.1 L968.7 489.2 L968.8 489.2 L969.4 488.8 L969.8 487.5 L970.0 486.1 L970.6 483.0 L970.8 481.4 L971.2 479.7 L971.8 477.6 L972.0 476.2 L972.4 471.8 L972.9 467.5 L973.0 465.8 L973.6 457.5 L973.8 455.3 L974.2 453.5 L974.6 451.0 L974.8 451.7 L975.4 453.5 L975.7 454.5 L976.0 451.3 L976.4 448.4 L976.6 447.0 L977.2 443.6 L977.4 443.2 L977.8 435.1 L977.8 435.5 L978.4 438.7 L978.6 439.5 L979.0 437.6 L979.6 436.1 L979.8 435.1 L980.2 435.7 L980.8 437.0 L980.9 437.7 L981.4 435.7 L981.9 432.5 L982.0 432.2 L982.6 428.3 L983.0 425.5 L983.2 423.3 L983.8 418.6 L983.8 419.3 L984.4 410.7 L984.7 407.8 L985.0 414.1 L985.4 422.1 L985.6 426.1 L986.1 437.7 L986.2 437.8 L986.8 439.1 L987.1 440.3 L987.4 442.2 L988.0 447.6 L988.2 448.4 L988.6 449.6 L989.2 451.3 L989.4 451.9 L989.8 456.6 L990.2 460.5 L990.4 463.0 L991.0 470.3 L991.3 474.4 L991.6 476.9 L992.2 482.8 L992.3 483.1 L992.8 486.7 L993.4 491.8 L993.4 491.7 L994.0 493.8 L994.6 497.0 L994.6 496.5 L995.2 498.3 L995.8 500.5 L995.8 501.1 L996.4 500.3 L997.0 501.5 L997.2 501.3 L997.6 502.4 L998.2 505.5 L998.6 506.6 L998.8 505.7 L999.4 504.9 L999.8 504.0 L1000.0 503.6 L1000.6 503.8 L1001.0 504.8 L1001.0 504.8" fill="none" stroke="#4bb4e6" stroke-width="1.75" stroke-linejoin="round" stroke-linecap="round"/>
<rect x="1010" y="301" width="9" height="32" fill="#cd3c14"/>
<rect x="1010" y="333" width="9" height="97" fill="#32c832"/>
<rect x="1010" y="430" width="9" height="141" fill="#cd3c14"/>
<text transform="translate(1024.6,336) scale(0.9,1)" class="ax">27</text>
<text transform="translate(1024.6,433) scale(0.9,1)" class="ax">18</text>
<text x="341" y="268" class="ti">Température</text>
<text x="341" y="286" class="un">°C</text>
<rect x="1021" y="256.8" width="16" height="1.9" rx="0.5" fill="#000"/>
<rect x="1021" y="261.20000000000005" width="16" height="1.9" rx="0.5" fill="#000"/>
<rect x="1021" y="265.70000000000005" width="16" height="1.9" rx="0.5" fill="#000"/>
<rect x="1108" y="300.0" width="626" height="1" fill="#e6e6e6"/>
<rect x="1108" y="355.0" width="626" height="1" fill="#e6e6e6"/>
<rect x="1108" y="409.0" width="626" height="1" fill="#e6e6e6"/>
<rect x="1108" y="463.0" width="626" height="1" fill="#e6e6e6"/>
<rect x="1108" y="517.0" width="626" height="1" fill="#e6e6e6"/>
<rect x="1108" y="570" width="626" height="2" fill="#c9c9c9"/>
<rect x="1107.0" y="562" width="1" height="8.5" fill="#ccd6eb"/>
<text transform="translate(1108.5,588) scale(0.9,1)" text-anchor="middle" class="ax">1/06</text>
<rect x="1189.2" y="562" width="1" height="8.5" fill="#ccd6eb"/>
<text transform="translate(1190.7,588) scale(0.9,1)" text-anchor="middle" class="ax">2/06</text>
<rect x="1271.4" y="562" width="1" height="8.5" fill="#ccd6eb"/>
<text transform="translate(1272.9,588) scale(0.9,1)" text-anchor="middle" class="ax">3/06</text>
<rect x="1353.6" y="562" width="1" height="8.5" fill="#ccd6eb"/>
<text transform="translate(1355.1,588) scale(0.9,1)" text-anchor="middle" class="ax">4/06</text>
<rect x="1435.8" y="562" width="1" height="8.5" fill="#ccd6eb"/>
<text transform="translate(1437.3,588) scale(0.9,1)" text-anchor="middle" class="ax">5/06</text>
<rect x="1518.0" y="562" width="1" height="8.5" fill="#ccd6eb"/>
<text transform="translate(1519.5,588) scale(0.9,1)" text-anchor="middle" class="ax">6/06</text>
<rect x="1600.2" y="562" width="1" height="8.5" fill="#ccd6eb"/>
<text transform="translate(1601.7,588) scale(0.9,1)" text-anchor="middle" class="ax">7/06</text>
<rect x="1682.4" y="562" width="1" height="8.5" fill="#ccd6eb"/>
<text transform="translate(1683.9,588) scale(0.9,1)" text-anchor="middle" class="ax">8/06</text>
<text transform="translate(1095,304) scale(0.9,1)" text-anchor="end" class="ax">100</text>
<text transform="translate(1095,358) scale(0.9,1)" text-anchor="end" class="ax">80</text>
<text transform="translate(1095,412) scale(0.9,1)" text-anchor="end" class="ax">60</text>
<text transform="translate(1095,466) scale(0.9,1)" text-anchor="end" class="ax">40</text>
<text transform="translate(1095,520) scale(0.9,1)" text-anchor="end" class="ax">20</text>
<text transform="translate(1095,574) scale(0.9,1)" text-anchor="end" class="ax">0</text>
<line x1="1108" x2="1734" y1="408.9" y2="408.9" stroke="#cd3c14" stroke-width="1.8" stroke-dasharray="5.3,1.9"/>
<line x1="1108" x2="1734" y1="549.1" y2="549.1" stroke="#32c832" stroke-width="1.8" stroke-dasharray="5.3,1.9"/>
<line x1="1108" x2="1734" y1="571.5" y2="571.5" stroke="#dba999" stroke-width="1" stroke-dasharray="5.3,1.9"/>
<path d="M1108.0 343.3 L1108.0 342.9 L1108.6 340.6 L1109.2 337.9 L1109.5 336.7 L1109.8 343.3 L1110.3 356.2 L1110.4 355.4 L1111.0 346.1 L1111.1 344.9 L1111.6 339.8 L1111.9 335.7 L1112.2 340.1 L1112.8 350.0 L1113.1 355.2 L1113.4 353.4 L1114.0 349.5 L1114.3 347.0 L1114.6 344.2 L1115.2 338.0 L1115.5 334.7 L1115.8 333.9 L1116.4 330.4 L1116.8 329.5 L1117.0 329.7 L1117.6 328.2 L1117.6 328.5 L1118.2 337.3 L1118.4 340.8 L1118.8 344.5 L1119.4 349.8 L1119.6 351.1 L1120.0 352.3 L1120.6 355.3 L1120.8 356.2 L1121.2 354.3 L1121.8 350.2 L1122.0 349.0 L1122.4 346.0 L1123.0 342.7 L1123.2 340.8 L1123.6 339.7 L1124.2 338.6 L1124.8 337.5 L1124.9 336.7 L1125.4 334.5 L1126.0 330.8 L1126.1 330.6 L1126.6 326.5 L1127.2 323.3 L1127.3 322.3 L1127.8 320.4 L1128.1 319.3 L1128.4 322.3 L1128.9 325.4 L1129.0 326.3 L1129.6 332.0 L1129.7 332.6 L1130.2 339.8 L1130.5 344.9 L1130.8 349.6 L1131.3 358.3 L1131.4 361.1 L1131.9 375.7 L1132.0 378.9 L1132.6 396.8 L1132.6 396.3 L1133.2 406.3 L1133.4 410.6 L1133.8 403.1 L1134.2 395.2 L1134.4 395.2 L1135.0 395.7 L1135.4 396.3 L1135.6 397.1 L1136.2 399.5 L1136.6 400.4 L1136.8 402.9 L1137.4 410.6 L1137.4 410.6 L1138.0 414.1 L1138.6 418.5 L1138.6 418.9 L1139.2 415.2 L1139.8 410.8 L1139.8 410.6 L1140.4 406.5 L1141.0 402.7 L1141.1 402.4 L1141.6 409.9 L1141.9 414.7 L1142.2 415.9 L1142.8 416.6 L1143.1 416.8 L1143.4 416.2 L1144.0 414.8 L1144.3 414.7 L1144.6 418.5 L1145.2 426.8 L1145.5 430.1 L1145.8 428.5 L1146.4 422.9 L1146.7 420.9 L1147.0 420.9 L1147.6 423.1 L1147.9 423.0 L1148.2 419.2 L1148.8 412.7 L1148.8 412.7 L1149.4 400.5 L1149.6 396.3 L1150.0 389.1 L1150.4 381.9 L1150.6 380.2 L1151.2 378.3 L1151.6 375.7 L1151.8 374.7 L1152.4 372.9 L1152.8 371.6 L1153.0 370.9 L1153.6 369.1 L1153.6 369.6 L1154.2 378.4 L1154.4 381.9 L1154.8 393.9 L1155.2 406.5 L1155.4 411.1 L1155.9 421.9 L1156.0 417.9 L1156.5 396.3 L1156.6 393.4 L1157.2 378.5 L1157.3 375.7 L1157.8 381.2 L1158.1 383.9 L1158.4 381.4 L1158.9 375.7 L1159.0 378.2 L1159.6 390.2 L1159.7 392.2 L1160.2 381.6 L1160.5 375.7 L1160.8 380.5 L1161.3 388.1 L1161.4 385.9 L1162.0 376.7 L1162.1 375.7 L1162.6 370.2 L1162.9 367.5 L1163.2 364.5 L1163.8 355.5 L1163.8 356.2 L1164.4 365.9 L1164.6 369.6 L1165.0 372.2 L1165.4 373.7 L1165.6 377.6 L1166.2 391.8 L1166.2 392.2 L1166.8 402.5 L1167.4 413.0 L1167.5 414.4 L1168.0 420.6 L1168.5 426.4 L1168.6 427.0 L1169.2 432.0 L1169.6 435.1 L1169.8 436.3 L1170.4 441.1 L1170.6 442.0 L1171.0 445.9 L1171.6 451.3 L1171.6 450.6 L1172.2 452.9 L1172.7 455.8 L1172.8 456.7 L1173.4 460.1 L1173.7 462.6 L1174.0 463.7 L1174.6 467.0 L1174.8 467.8 L1175.2 468.8 L1175.8 471.2 L1175.8 471.3 L1176.4 458.3 L1176.5 455.8 L1177.0 465.7 L1177.2 469.5 L1177.6 473.1 L1178.2 478.9 L1178.2 478.2 L1178.8 482.2 L1179.3 485.1 L1179.4 486.3 L1180.0 489.8 L1180.3 492.8 L1180.6 491.0 L1181.2 487.6 L1181.4 486.8 L1181.8 483.7 L1182.4 479.4 L1182.4 479.9 L1183.0 475.8 L1183.4 473.0 L1183.6 472.5 L1184.2 467.8 L1184.5 466.1 L1184.8 456.8 L1185.2 443.7 L1185.4 436.8 L1185.9 417.8 L1185.9 401.9 L1185.9 384.4 L1186.0 382.6 L1186.6 375.2 L1186.9 372.2 L1187.2 370.6 L1187.8 367.5 L1188.3 365.2 L1188.4 365.3 L1189.0 362.5 L1189.6 360.7 L1189.7 359.9 L1190.2 358.3 L1190.8 358.2 L1191.1 357.3 L1191.4 357.1 L1192.0 355.5 L1192.6 356.0 L1192.6 355.5 L1193.2 355.5 L1193.8 354.3 L1193.8 354.7 L1194.4 356.2 L1195.0 357.4 L1195.2 358.2 L1195.6 355.9 L1196.2 353.8 L1196.3 353.8 L1196.8 352.1 L1197.3 351.2 L1197.4 351.6 L1198.0 349.7 L1198.6 349.0 L1198.7 348.6 L1199.2 348.4 L1199.8 347.4 L1200.4 347.2 L1200.4 346.8 L1201.0 346.3 L1201.6 346.6 L1202.2 345.3 L1202.2 345.9 L1202.8 345.5 L1203.4 344.3 L1203.9 344.5 L1204.0 345.2 L1204.6 344.9 L1205.2 344.6 L1205.6 345.1 L1205.8 344.5 L1206.4 344.5 L1207.0 343.1 L1207.4 342.4 L1207.6 342.9 L1208.2 342.2 L1208.8 341.2 L1209.1 341.6 L1209.4 342.2 L1210.0 341.8 L1210.6 340.6 L1211.2 340.4 L1211.7 341.0 L1211.8 340.3 L1212.4 341.3 L1213.0 340.6 L1213.6 341.2 L1214.2 340.5 L1214.3 340.7 L1214.8 341.5 L1215.4 340.8 L1216.0 340.9 L1216.6 341.2 L1216.9 341.6 L1217.2 340.9 L1217.8 341.6 L1218.4 342.1 L1219.0 340.6 L1219.5 341.2 L1219.6 341.9 L1220.2 341.4 L1220.8 341.2 L1221.4 340.5 L1222.0 340.1 L1222.6 341.0 L1223.0 340.7 L1223.2 341.4 L1223.8 340.9 L1224.4 340.3 L1225.0 341.2 L1225.6 340.5 L1226.2 340.7 L1226.5 341.0 L1226.8 340.6 L1227.4 340.7 L1228.0 340.7 L1228.6 341.5 L1229.2 341.1 L1229.8 340.5 L1229.9 341.0 L1230.4 341.4 L1231.0 341.1 L1231.6 340.8 L1232.2 341.7 L1232.8 341.0 L1233.4 341.6 L1233.4 341.0 L1234.0 341.6 L1234.6 340.8 L1235.2 340.6 L1235.8 341.3 L1236.4 340.5 L1236.9 340.7 L1237.0 341.3 L1237.6 340.2 L1238.2 340.6 L1238.8 340.8 L1239.4 340.8 L1239.5 340.7 L1240.0 340.4 L1240.6 342.1 L1240.7 341.6 L1241.2 344.1 L1241.7 347.7 L1241.8 347.9 L1242.4 352.1 L1242.8 354.7 L1243.0 363.0 L1243.4 381.8 L1243.6 376.8 L1244.1 363.4 L1244.2 364.7 L1244.8 376.3 L1244.8 375.7 L1245.4 369.4 L1245.9 365.2 L1246.0 365.2 L1246.6 363.0 L1246.9 362.5 L1247.2 363.9 L1247.8 364.3 L1248.0 365.2 L1248.4 372.9 L1248.7 379.2 L1249.0 382.5 L1249.6 388.4 L1249.7 389.6 L1250.2 400.5 L1250.4 405.4 L1250.7 414.4 L1250.8 414.5 L1251.4 419.2 L1251.8 421.3 L1252.0 424.4 L1252.5 429.9 L1252.6 430.1 L1253.2 435.2 L1253.5 438.5 L1253.8 442.7 L1254.4 450.3 L1254.5 451.4 L1255.0 438.0 L1255.2 433.3 L1255.6 437.6 L1256.2 444.0 L1256.3 445.4 L1256.8 440.8 L1257.3 435.1 L1257.4 436.9 L1258.0 442.8 L1258.4 447.1 L1258.6 447.6 L1259.2 451.3 L1259.4 452.3 L1259.8 455.9 L1260.4 460.6 L1260.4 460.9 L1261.0 471.1 L1261.1 473.0 L1261.6 458.7 L1261.8 452.3 L1262.2 448.0 L1262.5 443.7 L1262.8 439.8 L1263.2 435.1 L1263.4 434.6 L1264.0 430.5 L1264.3 428.2 L1264.6 426.8 L1265.2 424.4 L1265.3 424.7 L1265.8 421.7 L1266.3 419.5 L1266.4 418.4 L1267.0 408.0 L1267.0 407.5 L1267.0 401.9 L1267.0 380.9 L1267.6 368.5 L1267.7 366.9 L1268.2 364.4 L1268.8 360.1 L1268.8 359.9 L1269.4 355.3 L1269.5 354.7 L1270.0 360.7 L1270.2 363.4 L1270.6 360.7 L1271.2 356.8 L1271.2 357.3 L1271.8 359.4 L1272.2 361.7 L1272.4 363.5 L1273.0 367.4 L1273.3 368.7 L1273.6 364.0 L1274.1 356.4 L1274.2 356.1 L1274.8 355.2 L1275.4 353.7 L1275.4 353.8 L1276.0 355.4 L1276.4 357.3 L1276.6 357.1 L1277.2 354.0 L1277.6 352.1 L1277.8 353.0 L1278.4 354.0 L1278.8 354.7 L1279.0 353.9 L1279.6 352.6 L1280.2 350.7 L1280.2 350.3 L1280.8 349.7 L1281.4 349.9 L1282.0 350.1 L1282.0 349.4 L1282.6 349.5 L1283.2 348.8 L1283.7 347.7 L1283.8 347.7 L1284.4 346.5 L1285.0 346.9 L1285.4 345.9 L1285.6 345.7 L1286.2 345.6 L1286.8 346.0 L1287.2 346.8 L1287.4 347.3 L1288.0 345.2 L1288.5 345.1 L1288.6 345.6 L1289.2 344.1 L1289.8 344.6 L1289.9 344.2 L1290.4 346.1 L1291.0 348.7 L1291.0 349.4 L1291.6 348.6 L1292.2 348.3 L1292.4 347.7 L1292.8 347.5 L1293.4 348.3 L1293.7 349.4 L1294.0 349.5 L1294.6 351.2 L1295.1 352.1 L1295.2 351.8 L1295.8 348.5 L1296.4 345.2 L1296.5 345.1 L1297.0 345.4 L1297.6 346.0 L1297.9 346.8 L1298.2 345.7 L1298.8 343.9 L1299.3 343.3 L1299.4 343.5 L1300.0 343.2 L1300.6 342.5 L1301.0 342.4 L1301.2 342.4 L1301.8 343.0 L1302.4 343.4 L1302.8 343.3 L1303.0 343.6 L1303.6 343.5 L1304.2 344.0 L1304.5 344.2 L1304.8 344.0 L1305.4 343.4 L1305.9 342.4 L1306.0 342.4 L1306.6 341.4 L1307.2 342.1 L1307.3 341.6 L1307.8 344.5 L1308.4 346.8 L1308.7 348.6 L1309.0 348.3 L1309.6 347.4 L1310.0 346.8 L1310.2 346.3 L1310.8 345.4 L1311.4 344.4 L1311.4 345.1 L1312.0 344.1 L1312.6 343.3 L1312.8 343.3 L1313.2 343.0 L1313.8 342.4 L1314.2 341.6 L1314.4 341.1 L1315.0 340.9 L1315.2 340.7 L1315.6 344.1 L1316.2 349.0 L1316.3 349.4 L1316.8 348.4 L1317.4 346.0 L1317.7 345.9 L1318.0 345.5 L1318.6 345.8 L1319.1 346.8 L1319.2 348.6 L1319.8 357.9 L1320.1 361.7 L1320.4 358.7 L1321.0 352.8 L1321.1 351.2 L1321.6 354.7 L1322.2 357.8 L1322.2 358.2 L1322.8 355.0 L1323.2 352.1 L1323.4 351.4 L1324.0 351.6 L1324.6 351.1 L1324.6 351.2 L1325.2 364.5 L1325.3 366.9 L1325.8 383.5 L1326.0 390.5 L1326.4 381.4 L1326.7 375.7 L1327.0 374.8 L1327.6 374.8 L1327.7 373.9 L1328.2 375.9 L1328.8 379.2 L1328.8 379.2 L1329.4 385.7 L1329.8 389.6 L1330.0 391.9 L1330.6 396.2 L1330.9 398.4 L1331.2 402.0 L1331.6 407.1 L1331.6 407.5 L1331.8 409.1 L1332.4 414.3 L1332.6 416.1 L1333.0 420.2 L1333.3 423.0 L1333.6 427.2 L1334.0 432.5 L1334.2 428.4 L1334.7 419.5 L1334.8 420.6 L1335.4 424.1 L1335.4 424.7 L1336.0 416.2 L1336.1 414.4 L1336.6 414.9 L1336.8 416.1 L1337.2 409.5 L1337.4 405.8 L1337.4 380.9 L1337.8 365.7 L1338.1 354.7 L1338.4 351.8 L1339.0 347.6 L1339.2 345.9 L1339.6 348.7 L1340.2 354.9 L1340.2 354.7 L1340.8 356.8 L1341.3 359.9 L1341.4 360.9 L1342.0 362.6 L1342.3 364.3 L1342.6 359.4 L1343.2 351.4 L1343.3 349.4 L1343.8 346.9 L1344.4 342.6 L1344.4 343.3 L1345.0 345.6 L1345.4 347.7 L1345.6 347.7 L1346.2 345.6 L1346.5 345.1 L1346.8 347.8 L1347.4 355.0 L1347.5 356.4 L1348.0 353.6 L1348.5 352.1 L1348.6 353.2 L1349.2 355.5 L1349.6 357.3 L1349.8 356.3 L1350.4 350.9 L1350.6 349.4 L1351.0 349.7 L1351.6 348.5 L1352.0 348.6 L1352.2 348.1 L1352.8 347.8 L1353.4 346.2 L1353.4 345.9 L1354.0 347.6 L1354.6 347.9 L1354.8 348.6 L1355.2 348.1 L1355.8 347.9 L1356.4 347.7 L1356.5 347.7 L1357.0 348.6 L1357.6 348.9 L1358.2 349.1 L1358.3 349.4 L1358.8 348.3 L1359.4 347.7 L1360.0 347.5 L1360.0 346.8 L1360.6 347.6 L1361.2 348.3 L1361.7 349.4 L1361.8 349.1 L1362.4 350.1 L1363.0 350.4 L1363.5 350.3 L1363.6 350.3 L1364.2 351.8 L1364.8 351.6 L1365.2 352.1 L1365.4 352.7 L1366.0 353.0 L1366.6 353.8 L1366.9 353.8 L1367.2 354.1 L1367.8 355.5 L1368.3 356.4 L1368.4 356.0 L1369.0 358.6 L1369.6 361.9 L1369.7 361.7 L1370.2 361.6 L1370.8 360.3 L1371.1 359.9 L1371.4 362.8 L1372.0 368.2 L1372.1 368.7 L1372.6 372.1 L1373.2 374.4 L1373.2 374.8 L1373.8 383.2 L1373.9 384.4 L1374.4 387.7 L1374.9 391.4 L1375.0 391.7 L1375.6 390.6 L1376.0 389.6 L1376.2 390.7 L1376.8 394.8 L1377.0 396.6 L1377.4 394.0 L1378.0 391.2 L1378.2 389.6 L1378.6 393.3 L1379.2 398.5 L1379.4 400.1 L1379.8 400.0 L1380.4 399.5 L1380.8 398.4 L1381.0 398.7 L1381.6 401.1 L1382.2 402.2 L1382.2 401.9 L1382.8 403.2 L1383.4 405.1 L1383.6 405.4 L1384.0 403.9 L1384.6 401.0 L1385.0 398.4 L1385.2 399.2 L1385.8 400.2 L1386.4 402.5 L1386.4 401.9 L1387.0 400.2 L1387.6 396.5 L1387.7 396.6 L1388.2 399.5 L1388.8 401.4 L1389.1 403.6 L1389.4 401.8 L1390.0 399.4 L1390.5 396.6 L1390.6 396.9 L1391.2 395.1 L1391.6 393.1 L1391.8 395.1 L1392.4 402.2 L1392.6 403.6 L1393.0 405.8 L1393.6 407.4 L1394.0 408.9 L1394.2 408.2 L1394.8 405.5 L1395.0 404.5 L1395.4 404.5 L1396.0 402.9 L1396.4 401.9 L1396.6 400.4 L1397.2 394.2 L1397.5 391.4 L1397.8 387.9 L1398.4 382.5 L1398.5 380.9 L1399.0 380.3 L1399.5 379.2 L1399.6 380.0 L1400.2 380.7 L1400.8 381.4 L1400.9 381.8 L1401.4 379.7 L1402.0 376.4 L1402.0 375.7 L1402.6 372.4 L1403.0 370.4 L1403.2 372.9 L1403.8 381.3 L1404.0 384.4 L1404.4 379.9 L1405.0 374.2 L1405.1 373.9 L1405.6 370.1 L1406.1 365.2 L1406.2 366.1 L1406.8 370.3 L1407.2 372.2 L1407.4 370.9 L1408.0 367.9 L1408.6 364.6 L1408.6 365.2 L1409.2 369.1 L1409.6 370.4 L1409.8 367.7 L1410.4 362.5 L1410.6 359.9 L1411.0 356.3 L1411.6 351.3 L1412.0 347.7 L1412.2 350.6 L1412.8 357.1 L1413.1 359.9 L1413.4 361.8 L1414.0 366.2 L1414.5 368.7 L1414.6 367.2 L1415.2 363.2 L1415.5 359.9 L1415.8 356.3 L1416.4 350.8 L1416.5 349.4 L1417.0 352.5 L1417.6 355.7 L1417.6 356.4 L1418.2 349.8 L1418.6 344.2 L1418.8 343.7 L1419.4 344.4 L1420.0 343.1 L1420.0 343.3 L1420.6 344.7 L1421.2 345.6 L1421.4 345.1 L1421.8 345.2 L1422.4 344.4 L1422.8 344.2 L1423.0 344.1 L1423.6 344.8 L1424.2 345.2 L1424.2 345.9 L1424.8 345.9 L1425.0 345.1 L1425.0 345.1 L1425.3 386.1 L1425.4 383.6 L1426.0 367.3 L1426.0 366.9 L1426.6 352.5 L1426.7 349.4 L1427.2 347.1 L1427.8 345.8 L1427.8 345.9 L1428.4 344.0 L1428.8 343.3 L1429.0 344.9 L1429.6 351.1 L1429.9 354.7 L1430.2 361.0 L1430.5 366.9 L1430.8 366.3 L1431.4 365.4 L1431.6 364.3 L1432.0 364.7 L1432.6 366.4 L1432.6 366.9 L1433.2 369.7 L1433.7 372.2 L1433.8 372.4 L1434.4 374.5 L1434.7 374.8 L1435.0 376.8 L1435.6 379.4 L1435.8 380.9 L1436.2 379.0 L1436.8 375.4 L1436.8 375.7 L1437.4 381.1 L1437.8 384.4 L1438.0 383.2 L1438.6 379.9 L1438.9 377.4 L1439.2 376.5 L1439.8 374.9 L1439.9 374.8 L1440.4 377.6 L1441.0 382.3 L1441.0 381.8 L1441.6 380.7 L1442.0 379.2 L1442.2 379.2 L1442.8 381.1 L1443.0 380.9 L1443.4 379.9 L1444.0 376.5 L1444.1 376.5 L1444.6 378.7 L1445.1 380.9 L1445.2 380.6 L1445.8 377.4 L1446.2 375.7 L1446.4 375.1 L1447.0 371.2 L1447.2 370.4 L1447.6 368.3 L1448.2 366.2 L1448.2 366.9 L1448.8 370.6 L1449.3 373.9 L1449.4 374.0 L1450.0 378.3 L1450.6 383.3 L1450.7 383.5 L1451.2 381.4 L1451.7 379.2 L1451.8 378.3 L1452.4 374.2 L1452.7 372.2 L1453.0 369.6 L1453.6 365.9 L1453.8 365.2 L1454.2 367.2 L1454.8 371.2 L1454.8 371.3 L1455.4 369.0 L1455.9 366.9 L1456.0 367.1 L1456.6 364.4 L1457.2 361.9 L1457.3 361.7 L1457.8 365.5 L1458.3 370.4 L1458.4 370.1 L1459.0 366.2 L1459.6 364.1 L1459.7 363.4 L1460.2 358.6 L1460.7 352.9 L1460.8 353.1 L1461.4 356.4 L1461.8 358.2 L1462.0 359.7 L1462.6 363.8 L1462.8 365.2 L1463.2 365.9 L1463.8 368.9 L1463.8 368.7 L1464.4 361.5 L1464.9 356.4 L1465.0 357.0 L1465.6 360.8 L1465.9 361.7 L1466.2 361.6 L1466.8 360.2 L1467.3 358.2 L1467.4 356.0 L1468.0 346.7 L1468.0 346.8 L1468.6 351.4 L1469.1 356.4 L1469.2 355.7 L1469.8 352.2 L1470.1 351.2 L1470.4 352.8 L1471.0 357.7 L1471.1 358.2 L1471.6 354.6 L1472.2 348.7 L1472.2 349.4 L1472.8 346.6 L1473.4 343.4 L1473.6 341.6 L1474.0 346.1 L1474.6 354.4 L1474.6 354.7 L1475.2 363.2 L1475.6 368.7 L1475.8 367.4 L1476.4 364.8 L1476.7 363.4 L1477.0 360.3 L1477.6 355.2 L1477.7 354.7 L1478.2 360.7 L1478.8 366.8 L1478.8 366.9 L1479.4 358.9 L1479.8 353.8 L1480.0 352.8 L1480.6 352.9 L1480.8 352.1 L1481.2 351.0 L1481.8 348.2 L1482.2 345.9 L1482.4 344.8 L1483.0 343.4 L1483.6 341.4 L1483.6 341.6 L1484.2 346.3 L1484.7 349.4 L1484.8 348.8 L1485.4 347.6 L1485.7 346.8 L1486.0 349.1 L1486.6 355.2 L1486.7 356.4 L1487.2 353.8 L1487.8 348.9 L1487.8 349.4 L1488.4 347.4 L1489.0 345.3 L1489.2 345.1 L1489.6 344.6 L1490.2 342.6 L1490.6 341.6 L1490.8 341.1 L1491.4 341.3 L1491.9 340.7 L1492.0 340.2 L1492.6 341.2 L1493.0 340.7 L1493.2 340.9 L1493.8 343.7 L1494.0 345.1 L1494.4 343.8 L1495.0 343.6 L1495.1 343.3 L1495.6 346.6 L1496.1 351.2 L1496.2 351.0 L1496.8 352.6 L1497.1 352.1 L1497.4 355.4 L1497.8 359.9 L1498.0 362.9 L1498.5 370.4 L1498.6 372.5 L1499.2 388.4 L1499.2 387.9 L1499.6 401.9 L1499.8 407.2 L1499.9 410.9 L1500.4 416.7 L1500.6 419.5 L1501.0 425.2 L1501.3 429.9 L1501.6 435.2 L1502.0 443.7 L1502.2 442.7 L1502.8 436.6 L1503.0 435.1 L1503.4 439.5 L1504.0 445.9 L1504.1 447.1 L1504.6 444.6 L1505.1 442.0 L1505.2 442.8 L1505.8 443.5 L1506.2 443.7 L1506.4 445.3 L1507.0 449.4 L1507.2 450.6 L1507.6 441.8 L1507.9 435.1 L1508.2 429.4 L1508.6 421.3 L1508.8 420.5 L1509.3 420.4 L1509.4 422.6 L1510.0 436.8 L1510.0 436.8 L1510.6 433.0 L1510.7 431.6 L1511.2 427.8 L1511.4 426.4 L1511.8 425.7 L1512.4 424.1 L1512.4 424.7 L1513.0 415.4 L1513.1 414.4 L1513.1 401.9 L1513.1 380.9 L1513.6 363.7 L1513.8 356.4 L1514.2 354.3 L1514.8 349.0 L1514.8 349.4 L1515.4 347.3 L1515.9 346.8 L1516.0 347.1 L1516.6 350.9 L1516.9 352.1 L1517.2 352.1 L1517.8 350.0 L1518.0 349.4 L1518.4 346.9 L1519.0 343.6 L1519.0 344.2 L1519.6 344.4 L1520.2 343.5 L1520.4 343.3 L1520.8 343.4 L1521.4 343.2 L1521.8 342.4 L1522.0 342.9 L1522.6 342.0 L1523.2 342.0 L1523.2 341.6 L1523.8 342.4 L1524.4 342.6 L1524.5 342.4 L1525.0 347.6 L1525.2 349.4 L1525.6 369.1 L1525.9 384.4 L1526.2 399.2 L1526.5 413.5 L1526.8 405.3 L1527.3 393.1 L1527.4 389.9 L1528.0 368.5 L1528.0 368.7 L1528.6 365.9 L1528.7 365.2 L1529.2 366.5 L1529.4 366.9 L1529.8 363.7 L1530.4 359.6 L1530.4 359.9 L1531.0 358.7 L1531.1 358.2 L1531.6 347.2 L1531.8 343.3 L1532.2 342.7 L1532.8 341.0 L1532.9 341.6 L1533.4 341.3 L1534.0 340.2 L1534.3 340.7 L1534.6 340.2 L1535.2 340.5 L1535.8 341.6 L1536.0 341.6 L1536.4 341.3 L1537.0 341.8 L1537.4 341.6 L1537.6 341.9 L1538.2 343.5 L1538.8 344.4 L1538.8 345.1 L1539.4 345.4 L1540.0 346.5 L1540.2 346.8 L1540.6 347.5 L1541.2 348.6 L1541.5 348.6 L1541.8 349.4 L1542.4 350.5 L1542.9 351.2 L1543.0 351.3 L1543.6 351.4 L1544.2 352.6 L1544.3 352.1 L1544.8 354.3 L1545.4 356.3 L1545.4 356.4 L1546.0 361.3 L1546.1 362.5 L1546.6 358.8 L1547.1 354.7 L1547.2 353.7 L1547.8 351.6 L1548.1 349.4 L1548.4 347.5 L1549.0 343.1 L1549.0 343.3 L1549.6 346.8 L1549.9 347.7 L1550.2 349.0 L1550.8 352.6 L1550.9 353.8 L1551.4 353.1 L1552.0 351.5 L1552.0 352.1 L1552.6 351.4 L1553.0 351.2 L1553.2 351.9 L1553.8 356.1 L1554.0 357.3 L1554.4 359.9 L1555.0 362.8 L1555.1 363.4 L1555.6 365.0 L1556.1 366.9 L1556.2 367.9 L1556.8 372.7 L1557.2 375.7 L1557.4 374.2 L1558.0 372.1 L1558.2 370.4 L1558.6 380.6 L1558.9 387.9 L1559.2 393.3 L1559.6 401.9 L1559.8 405.4 L1560.3 414.0 L1560.4 412.1 L1561.0 405.4 L1561.0 405.4 L1561.6 387.4 L1561.7 384.4 L1562.2 377.3 L1562.4 373.9 L1562.8 372.6 L1563.4 369.7 L1563.4 370.4 L1564.0 367.2 L1564.4 366.0 L1564.6 367.6 L1565.2 370.5 L1565.5 372.2 L1565.8 375.8 L1566.4 383.5 L1566.5 384.4 L1567.0 378.7 L1567.6 371.7 L1567.6 372.2 L1568.2 368.3 L1568.6 366.0 L1568.8 369.9 L1569.4 379.4 L1569.6 382.6 L1570.0 381.9 L1570.6 379.7 L1570.7 379.2 L1571.2 373.7 L1571.7 366.9 L1571.8 366.1 L1572.4 363.6 L1572.8 362.5 L1573.0 364.4 L1573.6 369.4 L1573.8 370.4 L1574.2 363.9 L1574.5 359.0 L1574.8 362.7 L1575.4 371.2 L1575.5 372.2 L1576.0 374.9 L1576.6 376.8 L1576.6 377.4 L1577.2 380.7 L1577.6 383.5 L1577.8 382.5 L1578.4 382.7 L1578.7 381.8 L1579.0 378.6 L1579.6 372.8 L1579.7 372.2 L1580.2 373.6 L1580.7 373.9 L1580.8 373.2 L1581.4 367.9 L1581.8 365.2 L1582.0 363.8 L1582.6 361.7 L1582.8 361.7 L1583.2 359.9 L1583.8 358.3 L1583.9 358.2 L1584.4 354.1 L1584.9 351.2 L1585.0 351.4 L1585.6 356.3 L1585.9 358.2 L1586.2 358.5 L1586.8 359.6 L1587.0 359.9 L1587.4 367.1 L1587.7 372.2 L1588.0 377.6 L1588.4 384.4 L1588.6 393.4 L1588.7 398.4 L1589.2 413.0 L1589.4 417.8 L1589.8 425.9 L1590.1 433.3 L1590.4 429.3 L1591.0 421.1 L1591.1 419.5 L1591.6 422.0 L1592.2 424.8 L1592.2 424.7 L1592.8 422.0 L1593.2 421.3 L1593.4 422.5 L1594.0 425.5 L1594.3 426.4 L1594.6 429.5 L1595.2 438.0 L1595.3 438.5 L1595.8 439.3 L1596.3 439.4 L1596.4 439.3 L1597.0 439.5 L1597.4 440.2 L1597.6 435.5 L1598.1 424.7 L1598.2 426.5 L1598.8 439.1 L1598.8 438.5 L1599.4 437.1 L1599.8 436.8 L1600.0 437.0 L1600.6 436.8 L1600.9 437.6 L1601.2 438.5 L1601.8 439.6 L1601.9 440.2 L1602.4 445.0 L1602.8 449.7 L1603.0 447.7 L1603.6 442.3 L1603.6 442.0 L1604.2 436.7 L1604.7 431.6 L1604.8 433.6 L1605.4 442.5 L1605.4 442.0 L1606.0 429.3 L1606.1 426.4 L1606.4 409.2 L1606.6 409.1 L1606.8 408.9 L1607.2 406.8 L1607.8 403.2 L1607.8 403.6 L1608.4 402.1 L1608.8 400.1 L1609.0 399.3 L1609.6 399.1 L1609.9 398.4 L1610.2 396.9 L1610.6 395.8 L1610.8 396.3 L1611.4 400.1 L1611.6 401.9 L1612.0 411.5 L1612.0 410.9 L1612.3 426.4 L1612.6 433.3 L1613.0 442.8 L1613.2 435.4 L1613.7 417.8 L1613.8 414.3 L1614.0 405.4 L1614.4 401.8 L1614.4 401.9 L1615.0 411.1 L1615.1 412.4 L1615.6 403.4 L1615.8 400.1 L1616.2 401.2 L1616.8 401.2 L1616.8 401.0 L1617.4 400.9 L1617.9 400.1 L1618.0 402.9 L1618.5 417.8 L1618.6 422.0 L1619.2 442.5 L1619.2 442.0 L1619.8 429.2 L1619.9 426.4 L1620.4 418.1 L1620.6 415.2 L1621.0 418.8 L1621.3 421.3 L1621.6 426.3 L1622.0 434.2 L1622.2 431.8 L1622.7 428.2 L1622.8 429.4 L1623.4 440.2 L1623.4 440.2 L1624.0 446.0 L1624.4 450.6 L1624.6 453.0 L1625.2 460.3 L1625.5 464.4 L1625.8 468.7 L1626.4 474.6 L1626.5 476.4 L1627.0 478.7 L1627.6 481.9 L1627.9 483.3 L1628.2 484.5 L1628.8 486.4 L1629.3 488.5 L1629.4 489.5 L1630.0 491.9 L1630.6 495.4 L1630.7 495.4 L1631.2 498.6 L1631.8 501.2 L1632.1 502.3 L1632.4 504.3 L1632.5 505.9 L1633.0 496.6 L1633.2 492.1 L1633.6 492.6 L1633.9 492.1 L1634.2 498.7 L1634.6 505.9 L1634.8 508.1 L1635.4 513.6 L1635.6 514.6 L1636.0 515.7 L1636.6 519.1 L1636.7 518.9 L1637.2 520.4 L1637.4 521.2 L1637.8 518.4 L1638.1 516.3 L1638.4 514.5 L1639.0 509.4 L1639.1 509.4 L1639.6 506.7 L1640.2 504.1 L1640.2 504.2 L1640.8 498.7 L1641.2 495.6 L1641.4 491.2 L1641.9 478.3 L1642.0 474.7 L1642.6 457.3 L1642.6 457.5 L1643.2 435.3 L1643.2 435.1 L1643.8 428.5 L1644.2 424.7 L1644.4 423.4 L1645.0 421.5 L1645.3 419.5 L1645.6 420.6 L1646.2 423.4 L1646.3 423.0 L1646.8 419.8 L1647.3 417.0 L1647.4 416.3 L1648.0 415.5 L1648.6 415.3 L1648.7 414.4 L1649.2 414.2 L1649.8 414.3 L1650.1 415.2 L1650.4 414.6 L1651.0 414.1 L1651.5 413.5 L1651.6 413.0 L1652.2 414.2 L1652.8 414.5 L1652.9 415.2 L1653.4 415.3 L1653.9 416.1 L1654.0 416.1 L1654.6 413.0 L1655.0 410.9 L1655.2 410.5 L1655.8 409.1 L1656.4 407.7 L1656.5 408.0 L1657.0 408.5 L1657.6 407.4 L1658.2 407.2 L1658.3 407.1 L1658.8 406.5 L1659.4 406.0 L1660.0 405.3 L1660.0 405.4 L1660.6 405.8 L1661.2 405.7 L1661.7 405.0 L1661.8 405.7 L1662.4 404.9 L1663.0 404.1 L1663.6 404.2 L1664.2 403.2 L1664.3 403.6 L1664.8 403.6 L1665.4 403.8 L1666.0 403.2 L1666.6 402.7 L1666.9 402.8 L1667.2 402.6 L1667.8 402.9 L1668.4 402.3 L1669.0 403.1 L1669.5 402.8 L1669.6 403.3 L1670.2 402.8 L1670.8 402.1 L1671.4 402.5 L1672.0 402.8 L1672.6 402.9 L1673.0 402.8 L1673.2 402.7 L1673.8 403.2 L1674.4 403.7 L1675.0 403.8 L1675.6 403.1 L1676.2 403.7 L1676.5 403.3 L1676.8 403.5 L1677.4 403.5 L1678.0 402.9 L1678.6 403.6 L1679.2 402.3 L1679.8 402.7 L1679.9 402.8 L1680.4 402.2 L1681.0 403.3 L1681.6 403.3 L1682.2 403.7 L1682.8 404.0 L1683.4 403.0 L1683.4 403.3 L1684.0 402.8 L1684.6 403.0 L1685.2 403.4 L1685.8 403.2 L1686.4 402.9 L1686.9 402.8 L1687.0 403.3 L1687.6 402.9 L1688.2 402.4 L1688.8 403.1 L1689.4 403.0 L1690.0 402.9 L1690.3 402.8 L1690.6 402.7 L1691.2 402.8 L1691.8 402.7 L1692.4 402.8 L1693.0 402.8 L1693.6 402.6 L1693.8 402.4 L1694.2 402.6 L1694.8 402.0 L1695.4 401.9 L1696.0 402.0 L1696.4 402.4 L1696.6 402.8 L1697.2 402.5 L1697.8 403.6 L1698.0 403.6 L1698.4 407.1 L1699.0 411.2 L1699.0 410.9 L1699.6 421.4 L1699.7 423.0 L1700.2 431.9 L1700.4 435.1 L1700.8 433.0 L1701.1 431.6 L1701.4 427.9 L1701.8 423.0 L1702.0 426.0 L1702.5 432.5 L1702.6 431.0 L1703.2 425.2 L1703.5 421.3 L1703.8 421.0 L1704.4 419.1 L1704.6 419.5 L1705.0 420.7 L1705.6 423.1 L1705.6 423.0 L1706.2 435.0 L1706.3 436.8 L1706.8 442.5 L1707.3 448.9 L1707.4 450.1 L1708.0 459.2 L1708.4 464.4 L1708.6 467.4 L1709.2 474.7 L1709.2 474.8 L1709.8 467.6 L1709.9 466.1 L1710.4 473.0 L1710.9 480.0 L1711.0 481.3 L1711.6 490.2 L1711.6 489.5 L1712.2 480.0 L1712.6 474.8 L1712.8 475.9 L1713.4 481.6 L1713.7 483.4 L1714.0 480.3 L1714.4 474.8 L1714.6 476.6 L1715.2 481.7 L1715.4 484.3 L1715.8 485.7 L1716.4 486.7 L1716.5 486.9 L1717.0 490.0 L1717.2 492.1 L1717.6 499.2 L1718.0 505.9 L1718.2 498.4 L1718.5 488.6 L1718.8 486.5 L1719.4 479.6 L1719.6 478.3 L1720.0 474.9 L1720.6 471.7 L1720.6 471.3 L1721.2 469.2 L1721.7 467.9 L1721.8 468.1 L1722.4 467.2 L1722.7 467.0 L1723.0 462.5 L1723.4 457.5 L1723.6 443.6 L1723.6 443.7 L1724.2 428.9 L1724.3 426.4 L1724.8 423.2 L1725.4 419.7 L1725.4 419.5 L1726.0 416.6 L1726.4 413.5 L1726.6 415.6 L1727.2 419.0 L1727.5 421.3 L1727.8 420.5 L1728.4 418.1 L1728.5 417.8 L1729.0 417.8 L1729.5 417.0 L1729.6 417.3 L1730.2 422.4 L1730.6 424.7 L1730.8 422.2 L1731.4 416.5 L1731.6 414.4 L1732.0 413.6 L1732.6 413.7 L1732.8 413.5 L1733.2 414.1 L1733.8 414.8 L1733.9 414.4 L1733.9 414.4" fill="none" stroke="#4bb4e6" stroke-width="1.75" stroke-linejoin="round" stroke-linecap="round"/>
<rect x="1743" y="301" width="9" height="107.5" fill="#cd3c14"/>
<rect x="1743" y="408.5" width="9" height="140.5" fill="#32c832"/>
<rect x="1743" y="549" width="9" height="22" fill="#cd3c14"/>
<text transform="translate(1757.6,412) scale(0.9,1)" class="ax">60</text>
<text transform="translate(1757.6,552) scale(0.9,1)" class="ax">8</text>
<text transform="translate(1757.6,574) scale(0.9,1)" class="ax">0</text>
<text x="1074.5" y="268" class="ti">Hygrométrie</text>
<text x="1074.5" y="286" class="un">%</text>
<rect x="1754" y="256.8" width="16" height="1.9" rx="0.5" fill="#000"/>
<rect x="1754" y="261.20000000000005" width="16" height="1.9" rx="0.5" fill="#000"/>
<rect x="1754" y="265.70000000000005" width="16" height="1.9" rx="0.5" fill="#000"/>
</svg>
</body></html>
